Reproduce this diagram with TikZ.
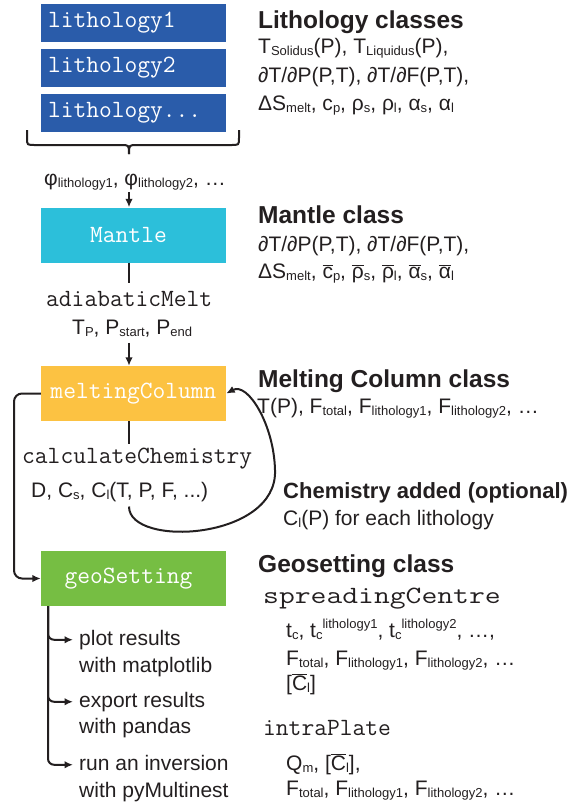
\documentclass[tikz,border=0pt]{standalone}
\usepackage{fontspec}
\usepackage{graphicx}
\setmainfont{Liberation Sans}
\usetikzlibrary{arrows.meta}

\definecolor{ink}{HTML}{231F20}
\definecolor{lithblue}{HTML}{2A5CAA}
\definecolor{mantlecyan}{HTML}{2CBFDA}
\definecolor{meltyellow}{HTML}{FCC242}
\definecolor{geogreen}{HTML}{76BE43}

% small lowered / raised indices in the text font
\newcommand\sbs[1]{\raisebox{-0.1em}{\scalebox{0.62}{#1}}}
\newcommand\sps[1]{\raisebox{0.4em}{\scalebox{0.62}{#1}}}
\newcommand\barred[1]{$\overline{\hbox{#1}}$}
\newcommand\codefont{\fontsize{24.8}{28}\selectfont\ttfamily}
\newcommand\bodyfont{\fontsize{21}{25}\selectfont}
\newcommand\headfont{\fontsize{24.5}{28}\selectfont\bfseries}

\tikzset{
  wire/.style={line width=2pt, draw=ink},
  arrow/.style={wire, -{Latex[length=8.5pt,width=7.5pt]}},
  box/.style={minimum width=185pt, text width=171pt, inner xsep=7pt, inner ysep=0pt, text=white, font=\codefont},
  lithbox/.style={box, fill=lithblue, minimum height=38pt, align=left},
  classbox/.style={box, minimum height=55pt, align=center},
  txt/.style={text=ink, font=\bodyfont, inner sep=0pt, anchor=base west},
  head/.style={txt, font=\headfont},
  code/.style={txt, font=\codefont},
  outtxt/.style={txt, inner xsep=6pt, text height=15pt, text depth=4.5pt},
}

\begin{document}
\begin{tikzpicture}[x=1pt, y=-1pt]
\useasboundingbox (0,0) rectangle (582,807);
\coordinate (axis) at (129,0);
\coordinate (rail) at (14,0);
\coordinate (trunk) at (48,0);

% class boxes
\node[lithbox] (lith1) at (133.5,23) {lithology1};
\node[lithbox] (lith2) at (133.5,68) {lithology2};
\node[lithbox] (lith3) at (133.5,113) {lithology...};
\node[classbox, fill=mantlecyan] (mantle) at (133.5,235) {Mantle\hspace*{10pt}};
\node[classbox, fill=meltyellow] (melt) at (133.5,393.5) {meltingColumn};
\node[classbox, fill=geogreen] (geo) at (133.5,578.5) {geoSetting\hspace*{10pt}};

% brace gathering the lithologies
\draw[wire] (27,130) -- (27,138) .. controls (27,145) .. (35,145) -- (121,145) .. controls (129,145) .. (129,154);
\draw[wire] (239,130) -- (239,138) .. controls (239,145) .. (231,145) -- (137,145) .. controls (129,145) .. (129,154);

\node[txt, inner ysep=2pt] (phi) at (44,185) {φ\sbs{lithology1}, φ\sbs{lithology2}, …};
\draw[arrow] (phi.south -| axis) -- (mantle.north -| axis);

% mantle -> melting column
\node[code, inner ysep=8pt] (amelt) at (46,306) {adiabaticMelt};
\node[txt, inner ysep=6pt] (pargs) at (72,334) {T\sbs{P}, P\sbs{start}, P\sbs{end}};
\draw[wire] (mantle.south -| axis) -- (amelt.north -| axis);
\draw[arrow] (pargs.south -| axis) -- (melt.north -| axis);

% chemistry loop
\node[code, inner ysep=3pt] (cchem) at (22,463) {calculateChemistry};
\node[txt, inner ysep=5pt] (cargs) at (31,497) {D, C\sbs{s}, C\sbs{l}(T, P, F, ...)};
\draw[wire] (melt.south -| axis) -- (cchem.north -| axis);
\coordinate (loopR) at (275,470);
\draw[arrow] (cargs.south -| axis) .. controls (129,548) and (278,540) .. (loopR)
  .. controls (274,425) and (248,382) .. (melt.east);

% melting column -> geosetting
\draw[arrow, rounded corners=8pt] (melt.west) -- (melt.west -| rail) -- (geo.west -| rail) -- (geo.west);

% outputs
\node[outtxt] (out1) at (73,645) {plot results};
\node[txt] (out1b) at (79,672) {with matplotlib};
\node[outtxt] (out2) at (73,707) {export results};
\node[txt] (out2b) at (79,733) {with pandas};
\node[outtxt] (out3) at (73,770) {run an inversion};
\node[txt] (out3b) at (79,797) {with pyMultinest};
\draw[arrow, rounded corners=6pt] (geo.south -| trunk) |- (out1.west);
\draw[arrow, rounded corners=6pt] (geo.south -| trunk) |- (out2.west);
\draw[arrow, rounded corners=6pt] (geo.south -| trunk) |- (out3.west);

% class descriptions
\node[head] (lithhead) at (258,28) {Lithology classes};
\node[txt] (lithl1) at (258,53) {T\sbs{Solidus}(P), T\sbs{Liquidus}(P),};
\node[txt] (lithl2) at (258,82) {∂T/∂P(P,T), ∂T/∂F(P,T),};
\node[txt] (lithl3) at (258,110) {ΔS\sbs{melt}, c\sbs{p}, ρ\sbs{s}, ρ\sbs{l}, α\sbs{s}, α\sbs{l}};

\node[head] (manthead) at (258,223) {Mantle class};
\node[txt] (mantl1) at (258,251) {∂T/∂P(P,T), ∂T/∂F(P,T),};
\node[txt] (mantl2) at (258,278) {ΔS\sbs{melt}, \barred{c}\sbs{p}, \barred{ρ}\sbs{s}, \barred{ρ}\sbs{l}, \barred{α}\sbs{s}, \barred{α}\sbs{l}};

\node[head] (melthead) at (258,387) {Melting Column class};
\node[txt] (meltl1) at (257,413) {T(P), F\sbs{total}, F\sbs{lithology1}, F\sbs{lithology2}, …};

\node[head, font=\fontsize{22}{26}\selectfont\bfseries] (chemhead) at (283,498) {Chemistry added (optional)};
\node[txt] (cheml1) at (283,525) {C\sbs{l}(P) for each lithology};

\node[head] (geohead) at (258,572) {Geosetting class};
\node[code] (spread) at (263,603) {\scalebox{1.24}[1]{spreadingCentre}};
\node[txt] (spreadl1) at (286,637) {t\sbs{c}, t\sbs{c}\sps{lithology1}, t\sbs{c}\sps{lithology2}, …,};
\node[txt] (spreadl2) at (286,665) {F\sbs{total}, F\sbs{lithology1}, F\sbs{lithology2}, …};
\node[txt] (spreadl3) at (286,690) {[\barred{C}\sbs{l}]};
\node[code] (intra) at (263,735) {intraPlate};
\node[txt] (intral1) at (286,770) {Q\sbs{m}, [\barred{C}\sbs{l}],};
\node[txt] (intral2) at (286,795) {F\sbs{total}, F\sbs{lithology1}, F\sbs{lithology2}, …};
\end{tikzpicture}
\end{document}
